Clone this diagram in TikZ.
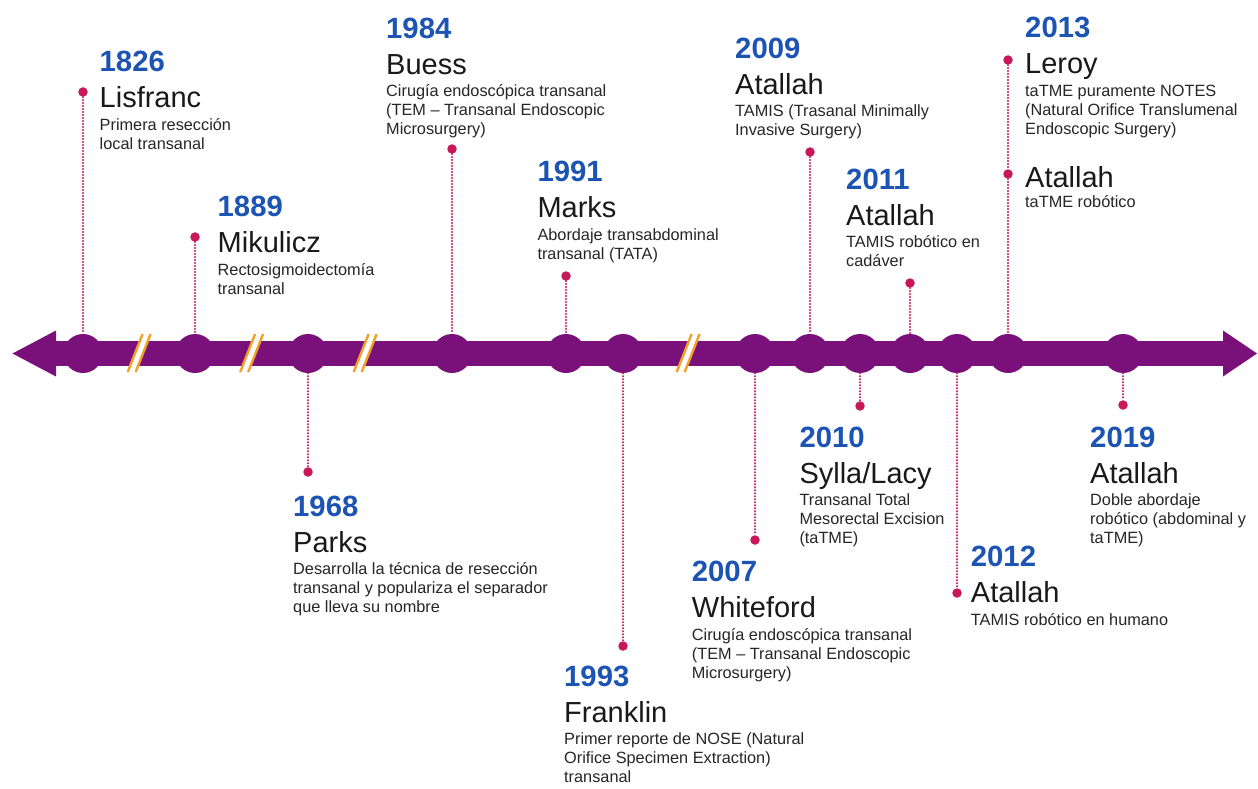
\documentclass[tikz,border=0pt]{standalone}
\usepackage{fontspec}
\setmainfont{Liberation Sans}
\definecolor{band}{RGB}{122,16,122}
\definecolor{pin}{RGB}{200,24,90}
\definecolor{yearblue}{RGB}{28,84,180}
\definecolor{brk}{RGB}{242,160,40}
\newcommand\dlines[1]{\begin{tabular}[t]{@{}l@{}}#1\end{tabular}}
\newcommand\tlentry[6]{%
  \node[yearnode] (#1-year) at (#2,#3) {#4};
  \node[namenode] (#1-name) at (#2,#3+36) {#5};
  \node[descnode] (#1-desc) at (#2,#3+58.5) {\dlines{#6}};
}
\begin{document}
\begin{tikzpicture}[x=1pt,y=-1pt,
  yearnode/.style={anchor=base west, inner sep=0pt, font=\fontsize{29.3}{31}\selectfont\bfseries, text=yearblue},
  namenode/.style={anchor=base west, inner sep=0pt, font=\fontsize{29}{31}\selectfont, text=black!90},
  descnode/.style={anchor=base west, inner sep=0pt, font=\fontsize{16.3}{19}\selectfont, text=black!85},
  hub/.style={circle, fill=band, minimum size=39pt, inner sep=0pt},
  pinnode/.style={circle, fill=pin, minimum size=9.5pt, inner sep=0pt},
  conn/.style={draw=pin, line width=2.2pt, line cap=round, dash pattern=on 0pt off 3pt},
]
\useasboundingbox[fill=white] (0,0) rectangle (1258,789);

% band with arrow heads
\fill[band] (50,341) rectangle (1226,366);
\fill[band] (12.5,353.5) -- (56,330.5) -- (56,376.5) -- cycle;
\fill[band] (1257,353.5) -- (1223,330.5) -- (1223,376.5) -- cycle;

% hubs
\node[hub] (h1) at (83,353.5) {};
\node[hub] (h2) at (195,353.5) {};
\node[hub] (h3) at (308,353.5) {};
\node[hub] (h4) at (452,353.5) {};
\node[hub] (h5) at (566,353.5) {};
\node[hub] (h6) at (623,353.5) {};
\node[hub] (h7) at (755,353.5) {};
\node[hub] (h8) at (810,353.5) {};
\node[hub] (h9) at (860,353.5) {};
\node[hub] (h10) at (910,353.5) {};
\node[hub] (h11) at (957,353.5) {};
\node[hub] (h12) at (1008,353.5) {};
\node[hub] (h13) at (1123,353.5) {};

% breaks
\foreach \cx in {139,251.5,365,688} {
  \fill[white] ({\cx-11.3},372) -- ({\cx+3.6},334) -- ({\cx+11.6},334) -- ({\cx-3.3},372) -- cycle;
  \draw[brk, line width=2.4pt] ({\cx-11.3},372) -- ({\cx+3.6},334);
  \draw[brk, line width=2.4pt] ({\cx-3.3},372) -- ({\cx+11.6},334);
}

% pins
\node[pinnode] (p1) at (83,92) {};
\node[pinnode] (p2) at (195,237) {};
\node[pinnode] (p3) at (308,472) {};
\node[pinnode] (p4) at (452,149) {};
\node[pinnode] (p5) at (566,276) {};
\node[pinnode] (p6) at (623,646) {};
\node[pinnode] (p7) at (755,540) {};
\node[pinnode] (p8) at (810,152) {};
\node[pinnode] (p9) at (860,406) {};
\node[pinnode] (p10) at (910,283) {};
\node[pinnode] (p11) at (957,593) {};
\node[pinnode] (p12a) at (1008,60) {};
\node[pinnode] (p12b) at (1008,174) {};
\node[pinnode] (p13) at (1123,405) {};

% connectors
\draw[conn] (p1) -- (h1);
\draw[conn] (p2) -- (h2);
\draw[conn] (h3) -- (p3);
\draw[conn] (p4) -- (h4);
\draw[conn] (p5) -- (h5);
\draw[conn] (h6) -- (p6);
\draw[conn] (h7) -- (p7);
\draw[conn] (p8) -- (h8);
\draw[conn] (h9) -- (p9);
\draw[conn] (p10) -- (h10);
\draw[conn] (h11) -- (p11);
\draw[conn] (p12a) -- (p12b);
\draw[conn] (p12b) -- (h12);
\draw[conn] (h13) -- (p13);

% texts
\tlentry{e1826}{99.5}{71.7}{1826}{Lisfranc}{Primera resección\\local transanal}
\tlentry{e1889}{217.5}{216.7}{1889}{Mikulicz}{Rectosigmoidectomía\\transanal}
\tlentry{e1984}{386}{38.3}{1984}{Buess}{Cirugía endoscópica transanal\\(TEM – Transanal Endoscopic\\Microsurgery)}
\tlentry{e1991}{537.3}{181.7}{1991}{Marks}{Abordaje transabdominal\\transanal (TATA)}
\tlentry{e2009}{735}{58.3}{2009}{Atallah}{TAMIS (Trasanal Minimally\\Invasive Surgery)}
\tlentry{e2011}{846}{189.3}{2011}{Atallah}{TAMIS robótico en\\cadáver}
\tlentry{e2013}{1025}{38}{2013}{Leroy}{taTME puramente NOTES\\(Natural Orifice Translumenal\\Endoscopic Surgery)}
\node[namenode] (e2013b-name) at (1025,187) {Atallah};
\node[descnode] (e2013b-desc) at (1025,207) {taTME robótico};
\tlentry{e1968}{293}{516}{1968}{Parks}{Desarrolla la técnica de resección\\transanal y populariza el separador\\que lleva su nombre}
\tlentry{e1993}{564}{686}{1993}{Franklin}{Primer reporte de NOSE (Natural\\Orifice Specimen Extraction)\\transanal}
\tlentry{e2007}{691.7}{581.7}{2007}{Whiteford}{Cirugía endoscópica transanal\\(TEM – Transanal Endoscopic\\Microsurgery)}
\tlentry{e2010}{799.3}{447.3}{2010}{Sylla/Lacy}{Transanal Total\\Mesorectal Excision\\(taTME)}
\tlentry{e2012}{970.7}{566.7}{2012}{Atallah}{TAMIS robótico en humano}
\tlentry{e2019}{1090}{447.3}{2019}{Atallah}{Doble abordaje\\robótico (abdominal y\\taTME)}
\end{tikzpicture}
\end{document}
